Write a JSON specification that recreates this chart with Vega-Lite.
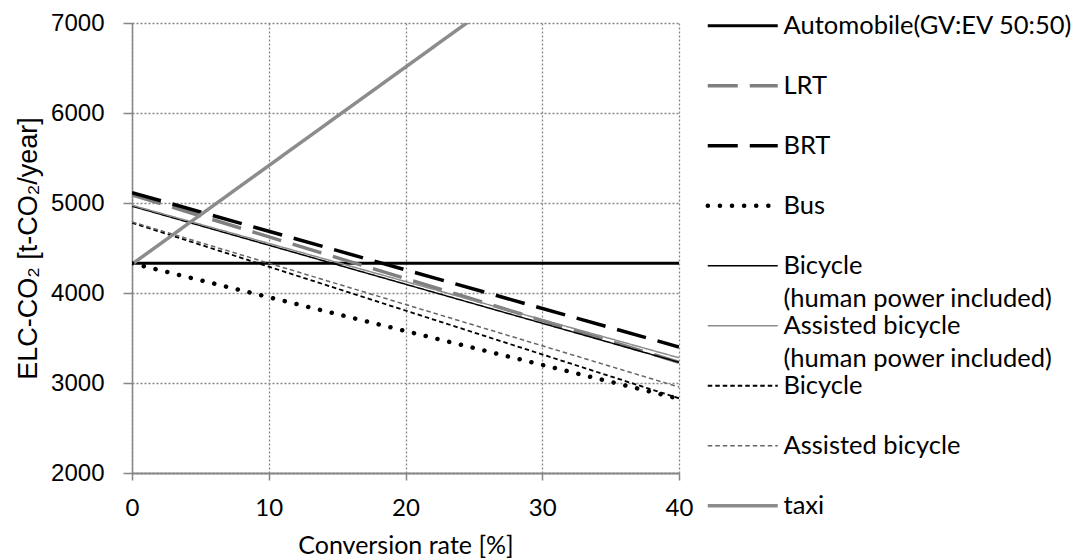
{
  "$schema": "https://vega.github.io/schema/vega-lite/v6.json",
  "width": 547,
  "height": 450,
  "autosize": {"type": "none"},
  "padding": {"left": 132, "top": 23, "right": 399, "bottom": 85},
  "background": "white",
  "config": {"view": {"stroke": null}, "font": "Lato"},
  "data": {
    "values": [
      {"series": "Automobile(GV:EV 50:50)", "rate": 0, "co2": 4330},
      {"series": "Automobile(GV:EV 50:50)", "rate": 40, "co2": 4330},
      {"series": "LRT", "rate": 0, "co2": 5090},
      {"series": "LRT", "rate": 40, "co2": 3230},
      {"series": "BRT", "rate": 0, "co2": 5115},
      {"series": "BRT", "rate": 40, "co2": 3400},
      {"series": "Bus", "rate": 0, "co2": 4330},
      {"series": "Bus", "rate": 40, "co2": 2825},
      {"series": "Bicycle (human power included)", "rate": 0, "co2": 4965},
      {"series": "Bicycle (human power included)", "rate": 40, "co2": 3230},
      {"series": "Assisted bicycle (human power included)", "rate": 0, "co2": 4975},
      {"series": "Assisted bicycle (human power included)", "rate": 40, "co2": 3280},
      {"series": "Bicycle", "rate": 0, "co2": 4780},
      {"series": "Bicycle", "rate": 40, "co2": 2830},
      {"series": "Assisted bicycle", "rate": 0, "co2": 4790},
      {"series": "Assisted bicycle", "rate": 40, "co2": 2955},
      {"series": "taxi", "rate": 0, "co2": 4320},
      {"series": "taxi", "rate": 40, "co2": 8700}
    ]
  },
  "encoding": {
    "x": {
      "field": "rate", "type": "quantitative",
      "scale": {"domain": [0, 40], "nice": false, "zero": false},
      "axis": {
        "values": [0, 10, 20, 30, 40],
        "title": "Conversion rate [%]",
        "titleFont": "Lato", "titleFontSize": 25, "titleFontWeight": "normal", "titleColor": "black",
        "titlePadding": 13,
        "labelFont": "Lato", "labelFontSize": 24, "labelColor": "black", "labelPadding": 16, "labelFlush": false,
        "domainColor": "#868686", "domainWidth": 2,
        "tickColor": "#868686", "tickSize": 7, "tickWidth": 1.5,
        "grid": true, "gridColor": "#868686", "gridDash": [2, 2], "gridWidth": 1.3
      }
    },
    "y": {
      "field": "co2", "type": "quantitative",
      "scale": {"domain": [2000, 7000], "nice": false, "zero": false},
      "axis": {
        "values": [2000, 3000, 4000, 5000, 6000, 7000],
        "format": "d",
        "title": "ELC-CO₂ [t-CO₂/year]",
        "titleFont": "Liberation Sans", "titleFontSize": 27, "titleFontWeight": "normal", "titleColor": "black",
        "titlePadding": 8,
        "labelFont": "Liberation Sans", "labelFontSize": 24, "labelColor": "black", "labelPadding": 19,
        "domainColor": "#868686", "domainWidth": 1.5,
        "tickColor": "#868686", "tickSize": 9, "tickWidth": 1.5,
        "grid": true, "gridColor": "#868686", "gridDash": [2, 2], "gridWidth": 1.3
      }
    },
    "color": {
      "field": "series", "type": "nominal",
      "scale": {
        "domain": ["Automobile(GV:EV 50:50)", "LRT", "BRT", "Bus", "Bicycle (human power included)", "Assisted bicycle (human power included)", "Bicycle", "Assisted bicycle", "taxi"],
        "range": ["#000000", "#7f7f7f", "#000000", "#000000", "#000000", "#8c8c8c", "#000000", "#666666", "#8c8c8c"]
      },
      "legend": {
        "title": null,
        "orient": "none",
        "legendX": 598,
        "legendY": -10,
        "padding": 0,
        "symbolType": "M-4,0H4",
        "symbolSize": 306,
        "gridAlign": "all",
        "rowPadding": 0,
        "labelFont": "Lato",
        "labelFontSize": 25.5,
        "labelColor": "black",
        "labelOffset": 28,
        "labelLimit": 400,
        "labelExpr": "split(replace(datum.label, ' (', '|('), '|')",
        "encode": {
          "labels": {"update": {"lineHeight": {"value": 33.5}}},
          "symbols": {"update": {"fill": {"value": "transparent"}, "strokeCap": [{"test": "datum.value === 'Bus'", "value": "round"}, {"value": "butt"}]}}
        }
      }
    },
    "strokeDash": {
      "field": "series", "type": "nominal",
      "scale": {
        "domain": ["Automobile(GV:EV 50:50)", "LRT", "BRT", "Bus", "Bicycle (human power included)", "Assisted bicycle (human power included)", "Bicycle", "Assisted bicycle", "taxi"],
        "range": [[1, 0], [30, 12], [30, 12], [0.1, 12], [1, 0], [1, 0], [4.5, 3], [4.5, 3], [1, 0]]
      }
    },
    "strokeWidth": {
      "field": "series", "type": "ordinal",
      "scale": {
        "type": "ordinal",
        "domain": ["Automobile(GV:EV 50:50)", "LRT", "BRT", "Bus", "Bicycle (human power included)", "Assisted bicycle (human power included)", "Bicycle", "Assisted bicycle", "taxi"],
        "range": [3, 3.5, 3.5, 4.5, 1.5, 1.5, 1.8, 1.5, 3.5]
      }
    }
  },
  "layer": [
    {
      "transform": [{"filter": "datum.series !== 'Bus'"}],
      "mark": {"type": "line", "clip": true, "strokeCap": "butt"}
    },
    {
      "transform": [{"filter": "datum.series === 'Bus'"}],
      "mark": {"type": "line", "clip": true, "strokeCap": "round"}
    }
  ]
}
